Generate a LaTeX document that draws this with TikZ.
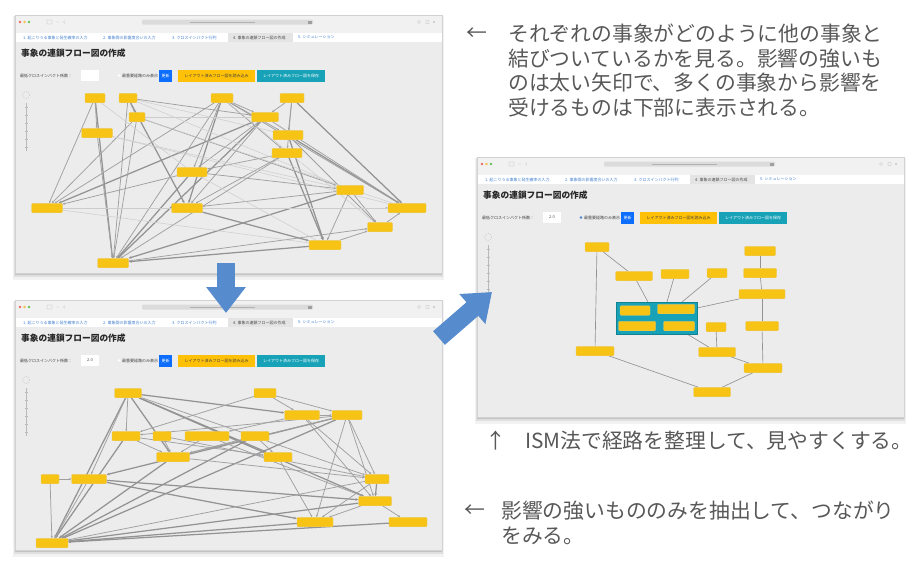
\documentclass[tikz,border=0pt]{standalone}
\usepackage{fontspec}
\newfontfamily\jp{Noto Sans CJK JP}
\usetikzlibrary{arrows.meta,calc}
\definecolor{winbar}{RGB}{241,241,241}
\definecolor{contentbg}{RGB}{236,236,236}
\definecolor{tabact}{RGB}{228,228,228}
\definecolor{tabblue}{RGB}{70,130,210}
\definecolor{dotred}{RGB}{237,106,94}
\definecolor{dotyel}{RGB}{245,191,79}
\definecolor{dotgrn}{RGB}{98,197,84}
\definecolor{nodeyel}{RGB}{247,196,22}
\definecolor{btnyel}{RGB}{255,193,7}
\definecolor{btnblue}{RGB}{13,110,253}
\definecolor{btnteal}{RGB}{23,162,184}
\definecolor{edgegray}{RGB}{128,128,128}
\definecolor{arrowblue}{RGB}{86,139,206}
\definecolor{captext}{RGB}{88,88,88}
\pgfdeclarelayer{chrome}
\pgfdeclarelayer{edges}
\pgfdeclarelayer{front}
\pgfsetlayers{chrome,edges,main,front}
\tikzset{
  tabtxt/.style={inner sep=0pt,text=tabblue,font=\jp\fontsize{4}{4}\selectfont},
  wintitle/.style={inner sep=0pt,text=black!85,font=\jp\bfseries\fontsize{8.7}{9}\selectfont},
  ctltxt/.style={inner sep=0pt,text=black!75,font=\jp\fontsize{4}{4}\selectfont},
  btnbox/.style={inner sep=0pt,minimum height=12pt,font=\jp\fontsize{4}{4}\selectfont},
  ev/.style={fill=nodeyel,draw=nodeyel!85!black!60,line width=0.2pt,rounded corners=1pt,inner sep=0pt,minimum height=9.5pt,minimum width=#1pt},
  clbox/.style={fill=btnteal,draw=btnteal!80!black,line width=0.3pt,inner sep=0pt},
  eA/.style={draw=edgegray!85,line width=1.25pt,-{Stealth[length=3pt,width=2.6pt]}},
  eB/.style={draw=edgegray!75,line width=0.75pt,-{Stealth[length=2.4pt,width=2.1pt]}},
  eC/.style={draw=edgegray!40,line width=0.5pt},
  eS/.style={draw=edgegray!85,line width=0.65pt},
  bigarrow/.style={draw=arrowblue,line width=18pt,-{Triangle[length=26pt,width=38pt]}},
  captxt/.style={inner sep=0pt,text=captext,font=\jp\fontsize{20.8}{24}\selectfont},
}
\newcommand\mywin[6]{%
\begin{pgfonlayer}{chrome}
\begin{scope}[shift={(#2,#3)}]
 \fill[black,opacity=.05] (-2,1) rectangle (429,#4+7);
 \fill[black,opacity=.08] (-1,1) rectangle (428,#4+4);
 \fill[black,opacity=.12] (0,0) rectangle (427,#4+2);
 \fill[winbar] (0,0) rectangle (427,18);
 \fill[dotred] (5,7) circle (1.4);
 \fill[dotyel] (9.5,7) circle (1.4);
 \fill[dotgrn] (14,7) circle (1.4);
 \draw[gray!60,line width=.3pt] (32,5) rectangle (37,9) (41,7)--(44,7) (50,5.5)--(48.5,7)--(50,8.5);
 \fill[gray!28,rounded corners=1.2pt] (127,4.5) rectangle (298,9.5);
 \fill[gray!60] (175,6.6) rectangle (240,7.4);
 \fill[gray!75] (293,5.5) rectangle (296.5,8.5);
 \draw[gray!60,line width=.3pt] (404,7) circle (1.5) (411,5.5) rectangle (414,8.5) (418,6)--(420,8) (418,8)--(420,6);
 \fill[white] (0,18) rectangle (427,27);
 \fill[tabact] (213,18) rectangle (278,27);
 \node[tabtxt,anchor=west] (#1tA) at (8,22.5) {1. 起こりうる事象と発生確率の入力};
 \node[tabtxt,anchor=west] (#1tB) at (88,22.5) {2. 事象間の影響度合いの入力};
 \node[tabtxt,anchor=west] (#1tC) at (157,22.5) {3. クロスインパクト行列};
 \node[tabtxt,anchor=west,text=black!70] (#1tD) at (218,22.5) {4. 事象の連鎖フロー図の作成};
 \node[tabtxt,anchor=west] (#1tE) at (283,22.5) {5. シミュレーション};
 \fill[contentbg] (0,27) rectangle (427,#4);
 \draw[gray!35,line width=.3pt] (0,0) rectangle (427,#4);
 \node[wintitle,anchor=west] (#1title) at (6,38) {事象の連鎖フロー図の作成};
 \node[ctltxt,anchor=west] (#1lbl) at (5,60.5) {最低クロスインパクト係数：};
 \node[fill=white,minimum width=18pt,minimum height=11pt,inner sep=0pt,text=black!70,font=\jp\fontsize{4}{4}\selectfont] (#1inp) at (75,60.5) {#5};
 \fill[#6] (104,60.5) circle (1.3);
 \node[ctltxt,anchor=west] (#1chk) at (107,60.5) {最重要経路のみ表示};
 \node[btnbox,fill=btnblue,text=white,minimum width=13pt] (#1bA) at (150.5,60.5) {更新};
 \node[btnbox,fill=btnyel,text=black!75,minimum width=77pt] (#1bB) at (201.5,60.5) {レイアウト済みフロー図を読み込み};
 \node[btnbox,fill=btnteal,text=white,minimum width=68pt] (#1bC) at (276,60.5) {レイアウト済みフロー図を保存};
 \draw[gray!60,line width=.3pt,dash pattern=on 1pt off 1pt] (11,80) circle (3.5);
 \draw[gray!55,line width=.3pt] (11,88) -- (11,136);
 \foreach \yy in {92,100,108,116,124,132} \draw[gray!55,line width=.3pt] (9.5,\yy)--(12.5,\yy);
\end{scope}
\end{pgfonlayer}}
\begin{document}
\begin{tikzpicture}[x=1pt,y=-1pt]
\useasboundingbox (0,0) rectangle (913,560);
\begin{pgfonlayer}{chrome}
\fill[white] (0,0) rectangle (913,560);
\end{pgfonlayer}
\mywin{wa}{15}{15}{258}{}{white}
\mywin{wb}{15}{300}{250}{2.0}{white}
\mywin{wc}{477}{157}{260}{2.0}{tabblue}

% ---------- screenshot 1 ----------
\node[ev=20] (A) at (95,98) {};
\node[ev=18] (B) at (128,98) {};
\node[ev=22] (C) at (222,98) {};
\node[ev=24] (D) at (292,98) {};
\node[ev=16] (E) at (137,117) {};
\node[ev=27] (F) at (265,117) {};
\node[ev=31] (G) at (97,133) {};
\node[ev=30] (H) at (288,135) {};
\node[ev=30] (I) at (287,153) {};
\node[ev=30] (J) at (192,172) {};
\node[ev=27] (K) at (350,190) {};
\node[ev=31] (L) at (47,208) {};
\node[ev=31] (M) at (187,208) {};
\node[ev=38] (N) at (407,208) {};
\node[ev=25] (O) at (380,227) {};
\node[ev=32] (P) at (325,245) {};
\node[ev=31] (Q) at (113,263) {};
\begin{pgfonlayer}{edges}
\foreach \a/\b in {A/Q,B/M,C/M,F/Q,F/L,H/P,I/P,K/Q,J/Q,M/P,D/N,H/N,P/Q}
  \draw[eA] (\a) -- (\b);
\foreach \a/\b in {A/L,A/G,B/E,B/Q,B/F,C/J,C/L,C/Q,C/F,C/H,C/I,D/F,D/I,E/L,E/K,F/J,F/M,F/N,H/O,I/Q,I/M,J/L,J/K,K/M,K/O,K/P,P/O,O/N,M/N,I/J,Q/O,D/H,C/N,G/Q,E/Q}
  \draw[eB] (\a) -- (\b);
\foreach \a/\b in {B/H,E/F,G/N,L/P,A/J,C/O,J/P,B/K,E/N,G/K,L/N}
  \draw[eC] (\a) -- (\b);
\end{pgfonlayer}

% ---------- screenshot 2 ----------
\node[ev=27] (a) at (128,393) {};
\node[ev=22] (b) at (265,393) {};
\node[ev=35] (c) at (302,415) {};
\node[ev=30] (d) at (347,415) {};
\node[ev=28] (e) at (126,436) {};
\node[ev=18] (f) at (162,436) {};
\node[ev=44] (g) at (207,436) {};
\node[ev=28] (h) at (255,436) {};
\node[ev=33] (i) at (173,457) {};
\node[ev=28] (j) at (278,457) {};
\node[ev=18] (k) at (50,479) {};
\node[ev=35] (l) at (89,479) {};
\node[ev=24] (m) at (377,479) {};
\node[ev=33] (n) at (375,501) {};
\node[ev=36] (o) at (315,522) {};
\node[ev=38] (p) at (408,522) {};
\node[ev=32] (q) at (52,543) {};
\begin{pgfonlayer}{edges}
\foreach \a/\b in {a/c,a/q,a/i,a/n,d/l,d/q,e/q,l/n,l/o,p/q,o/q,n/q,m/n,i/q,h/q,a/j}
  \draw[eA] (\a) -- (\b);
\foreach \a/\b in {a/l,a/e,a/m,b/c,b/e,b/d,c/d,c/g,c/m,d/e,d/i,d/m,d/o,d/n,e/i,e/j,f/i,f/m,g/i,g/n,h/i,h/j,i/m,j/o,k/l,k/q,l/q,m/o,n/o,n/p,m/q,c/n}
  \draw[eB] (\a) -- (\b);
\end{pgfonlayer}

% ---------- screenshot 3 ----------
\node[ev=24] (r1) at (597,247) {};
\node[ev=37] (r2) at (634,276) {};
\node[ev=28] (r3) at (675,274) {};
\node[ev=20] (r4) at (717,273) {};
\node[ev=31] (r5) at (760,251) {};
\node[ev=33] (r6) at (760,273) {};
\node[ev=46] (r7) at (762,294) {};
\node[clbox,minimum width=81pt,minimum height=32pt] (cl) at (656.5,318) {};
\node[ev=30] (c1) at (635,310.5) {};
\node[ev=37] (c2) at (676,309) {};
\node[ev=37] (c3) at (637,326) {};
\node[ev=31] (c4) at (679,326) {};
\node[ev=20] (r8) at (716,327) {};
\node[ev=33] (r9) at (762,326) {};
\node[ev=38] (r10) at (595,351) {};
\node[ev=37] (r11) at (717,352) {};
\node[ev=38] (r12) at (763,368) {};
\node[ev=37] (r13) at (712,392) {};
\coordinate (p1) at (648,302);
\coordinate (p2) at (667,302);
\coordinate (p3) at (682,302);
\coordinate (p4) at (697,308);
\coordinate (p5) at (687,334);
\begin{pgfonlayer}{edges}
\foreach \a/\b in {r1/r10,r1/r2,r2/p1,r3/p2,r4/p3,r5/r6,r6/r7,r7/p4,r7/r9,r9/r12,r8/r11,p5/r11,r11/r12,r10/r13,r12/r13}
  \draw[eS] (\a) -- (\b);
\end{pgfonlayer}

% ---------- big arrows and captions ----------
\begin{pgfonlayer}{front}
\coordinate (da) at (226,263);
\coordinate (db) at (226,313);
\coordinate (ga) at (439,338);
\coordinate (gb) at (492,292);
\draw[bigarrow] (da) -- (db);
\draw[bigarrow] (ga) -- (gb);
\node[captxt,anchor=west] (ka) at (466,34) {←};
\node[captxt,anchor=west] (k1) at (508,34) {それぞれの事象がどのように他の事象と};
\node[captxt,anchor=west] (k2) at (508,58.5) {結びついているかを見る。影響の強いも};
\node[captxt,anchor=west] (k3) at (508,83) {のは太い矢印で、多くの事象から影響を};
\node[captxt,anchor=west] (k4) at (508,107.5) {受けるものは下部に表示される。};
\node[captxt,anchor=west] (kb) at (485,441) {↑};
\node[captxt,anchor=west] (k5) at (525,441) {ISM法で経路を整理して、見やすくする。};
\node[captxt,anchor=west] (kc) at (464,511) {←};
\node[captxt,anchor=west] (k6) at (501,511) {影響の強いもののみを抽出して、つながり};
\node[captxt,anchor=west] (k7) at (501,536) {をみる。};
\end{pgfonlayer}
\end{tikzpicture}
\end{document}
